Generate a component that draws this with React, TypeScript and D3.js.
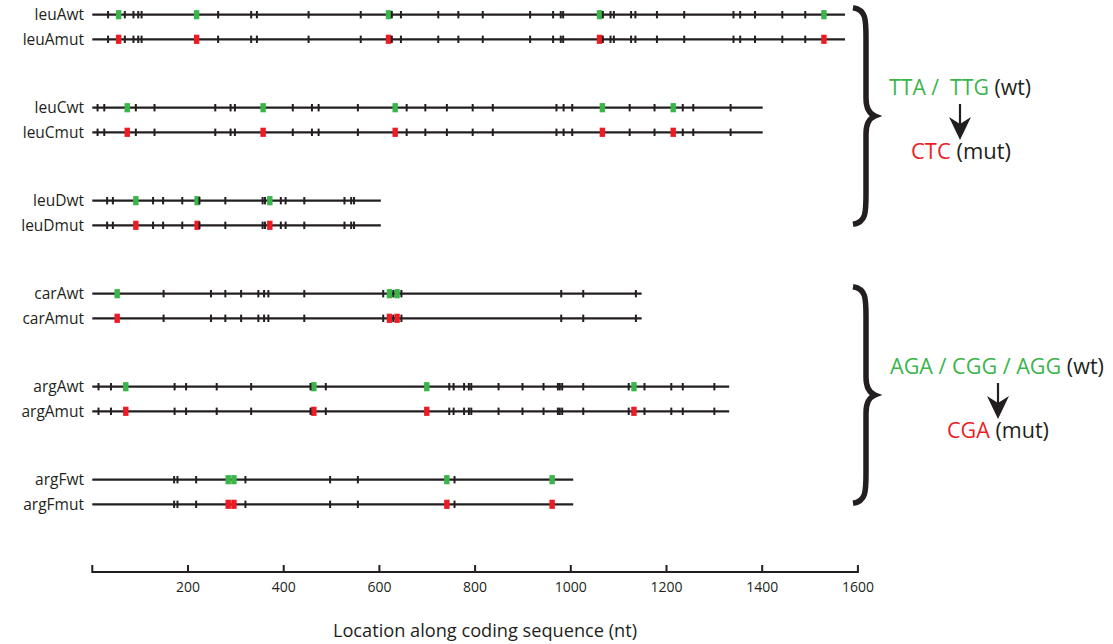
import React from "react";
import * as d3 from "d3";

// ---- data ----
const genes = ["leuA", "leuC", "leuD", "carA", "argA", "argF"];
const geneLengths = [1573, 1401, 603, 1148, 1331, 1005];
const blackCodons: number[][] = [
  [33, 68, 86, 96, 103, 263, 332, 344, 452, 561, 626, 645, 723, 765, 816, 915, 963, 979, 984, 1067, 1083, 1090, 1126, 1135, 1180, 1237, 1340, 1354, 1385, 1442, 1490],
  [11, 25, 91, 130, 257, 289, 298, 419, 459, 473, 555, 657, 696, 741, 795, 837, 970, 985, 1003, 1123, 1175, 1234, 1256, 1334],
  [31, 43, 127, 148, 188, 224, 278, 356, 361, 394, 404, 443, 527, 541, 547],
  [149, 248, 278, 311, 347, 359, 368, 443, 608, 629, 646, 980, 1026, 1136],
  [13, 39, 172, 196, 260, 332, 456, 488, 746, 755, 777, 787, 792, 849, 899, 943, 973, 977, 982, 1026, 1121, 1154, 1210, 1234, 1300],
  [171, 178, 217, 320, 497, 555, 757],
];
const rareCodons: number[][] = [
  [55, 218, 619, 1060, 1529],
  [73, 357, 633, 1066, 1214],
  [91, 219, 371],
  [52, 621, 637],
  [70, 463, 699, 1132],
  [284, 296, 741, 961],
];
const variants = ["wt", "mut"];
const axisTicks = [0, 200, 400, 600, 800, 1000, 1200, 1400, 1600];
const axisLabels = ["", "200", "400", "600", "800", "1000", "1200", "1400", "1600"];
const axisTitle = "Location along coding sequence (nt)";
const annotations = [
  { wt: [{ t: "TTA /  ", c: "g" }, { t: "TTG", c: "g" }, { t: " (wt)", c: "k" }], mut: [{ t: "CTC", c: "r" }, { t: " (mut)", c: "k" }], from: 0, to: 2, wtLen: 142, mutLen: 100 },
  { wt: [{ t: "AGA / CGG / AGG", c: "g" }, { t: " (wt)", c: "k" }], mut: [{ t: "CGA", c: "r" }, { t: " (mut)", c: "k" }], from: 3, to: 5, wtLen: 214, mutLen: 102 },
];

const GREEN = "#3ab54a";
const RED = "#ed1c24";
const BLACK = "#231f20";
const FONT = "'Open Sans', 'Noto Sans', sans-serif";

export default function App() {
  const W = 1113, H = 644;
  const x = d3.scaleLinear().domain([0, 1600]).range([92.3, 857.9]);
  const yGroup = d3.scalePoint<string>().domain(genes).range([14.7, 479.7]);
  const yOff = d3.scalePoint<string>().domain(variants).range([0, 24.6]);
  const colOf = (c: string) => (c === "g" ? GREEN : c === "r" ? RED : BLACK);

  const axisY = 572;

  return (
    <svg width={W} height={H} style={{ position: "absolute", left: 0, top: 0, background: "#fff" }}>
      {genes.map((g, gi) =>
        variants.map((v) => {
          const y = (yGroup(g) as number) + (yOff(v) as number);
          const rc = v === "wt" ? GREEN : RED;
          return (
            <g key={g + v}>
              <text x={84} y={y} dy="0.35em" textAnchor="end" fontFamily={FONT} fontSize={15.5} fill={BLACK}>
                {g + v}
              </text>
              <line x1={x(0)} x2={x(geneLengths[gi])} y1={y} y2={y} stroke={BLACK} strokeWidth={2.2} />
              {rareCodons[gi].map((p, i) => (
                <rect key={"r" + i} x={x(p) - 2.7} y={y - 4.6} width={5.4} height={9.2} fill={rc} />
              ))}
              {blackCodons[gi].map((p, i) => (
                <rect key={"b" + i} x={x(p) - 1} y={y - 3.7} width={2} height={7.4} fill={BLACK} />
              ))}
            </g>
          );
        })
      )}

      {/* axis */}
      <g>
        <line x1={x(0)} x2={x(1600)} y1={axisY} y2={axisY} stroke={BLACK} strokeWidth={2} />
        {axisTicks.map((t, i) => (
          <g key={t}>
            <line x1={x(t)} x2={x(t)} y1={axisY + 1} y2={axisY - 7} stroke={BLACK} strokeWidth={2} />
            <text x={x(t)} y={axisY + 20} textAnchor="middle" fontFamily={FONT} fontSize={14} fill={BLACK}>
              {axisLabels[i]}
            </text>
          </g>
        ))}
        <text x={485} y={637} textAnchor="middle" fontFamily={FONT} fontSize={18.2} fill={BLACK}>
          {axisTitle}
        </text>
      </g>

      {/* braces and annotations */}
      {annotations.map((a, ai) => {
        const top = (yGroup(genes[a.from]) as number) - 7;
        const bot = (yGroup(genes[a.to]) as number) + (yOff("mut") as number) - 1;
        const mid = (top + bot) / 2;
        const xs = 866, xl = 853, xt = 875;
        const path = `M ${xl} ${top} C ${xs} ${top + 2}, ${xs} ${top + 12}, ${xs} ${top + 30} L ${xs} ${mid - 18} C ${xs} ${mid - 6}, ${xs + 4} ${mid - 2}, ${xt} ${mid} C ${xs + 4} ${mid + 2}, ${xs} ${mid + 6}, ${xs} ${mid + 18} L ${xs} ${bot - 30} C ${xs} ${bot - 12}, ${xs} ${bot - 2}, ${xl} ${bot}`;
        const wtY = mid - 21;
        const wtX = ai === 0 ? 889 : 890;
        const arrowX = ai === 0 ? 960 : 998;
        const mutX = ai === 0 ? 911 : 947;
        return (
          <g key={ai}>
            <path d={path} fill="none" stroke={BLACK} strokeWidth={5.5} strokeLinecap="butt" />
            <text x={wtX} y={wtY} fontFamily={FONT} fontSize={21} textLength={a.wtLen} lengthAdjust="spacingAndGlyphs">
              {a.wt.map((s, i) => (
                <tspan key={i} fill={colOf(s.c)} style={{ whiteSpace: "pre" }}>
                  {s.t}
                </tspan>
              ))}
            </text>
            <line x1={arrowX} x2={arrowX} y1={wtY + 9} y2={wtY + 30} stroke={BLACK} strokeWidth={2.2} />
            <path d={`M ${arrowX - 11} ${wtY + 22} L ${arrowX} ${wtY + 45} L ${arrowX + 11} ${wtY + 22} L ${arrowX} ${wtY + 29} Z`} fill={BLACK} />
            <text x={mutX} y={wtY + 64} fontFamily={FONT} fontSize={21} textLength={a.mutLen} lengthAdjust="spacingAndGlyphs">
              {a.mut.map((s, i) => (
                <tspan key={i} fill={colOf(s.c)} style={{ whiteSpace: "pre" }}>
                  {s.t}
                </tspan>
              ))}
            </text>
          </g>
        );
      })}
    </svg>
  );
}
